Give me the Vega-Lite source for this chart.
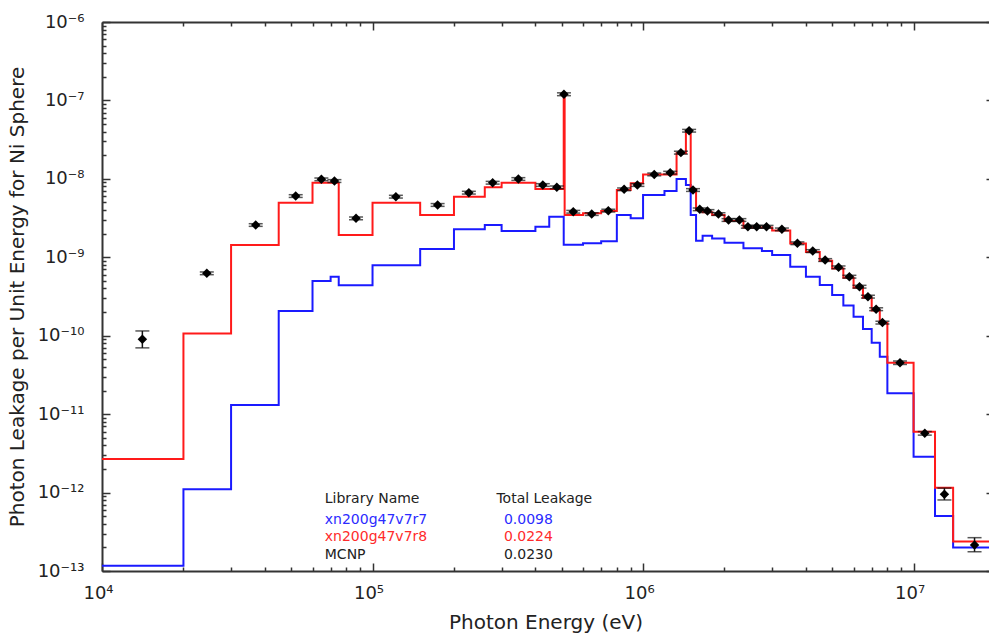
{
  "$schema": "https://vega.github.io/schema/vega-lite/v6.json",
  "width": 887,
  "height": 549,
  "autosize": "none",
  "padding": {"left": 102, "top": 22, "right": 0, "bottom": 64},
  "background": "white",
  "config": {"view": {"stroke": null}, "font": "DejaVu Sans"},
  "datasets": {
    "red": [
      {"E": 1e4, "v": 2.68e-12}, {"E": 2e4, "v": 1.07e-10}, {"E": 3e4, "v": 1.43e-9}, {"E": 4.5e4, "v": 4.97e-9},
      {"E": 6e4, "v": 8.9e-9}, {"E": 7e4, "v": 8.9e-9}, {"E": 7.5e4, "v": 1.92e-9}, {"E": 1e5, "v": 4.97e-9},
      {"E": 1.5e5, "v": 3.46e-9}, {"E": 2e5, "v": 5.9e-9}, {"E": 2.6e5, "v": 7.8e-9}, {"E": 3e5, "v": 8.9e-9},
      {"E": 4e5, "v": 7.4e-9}, {"E": 4.5e5, "v": 7.4e-9}, {"E": 5.09e5, "v": 1.18e-7}, {"E": 5.13e5, "v": 3.46e-9},
      {"E": 6e5, "v": 3.64e-9}, {"E": 7e5, "v": 3.89e-9}, {"E": 8e5, "v": 7.2e-9}, {"E": 9e5, "v": 8.8e-9},
      {"E": 1e6, "v": 1.14e-8}, {"E": 1.2e6, "v": 1.14e-8}, {"E": 1.33e6, "v": 2.12e-8}, {"E": 1.44e6, "v": 4.07e-8},
      {"E": 1.5e6, "v": 7.3e-9}, {"E": 1.57e6, "v": 4.0e-9}, {"E": 1.66e6, "v": 3.75e-9}, {"E": 1.8e6, "v": 3.45e-9},
      {"E": 2e6, "v": 2.9e-9}, {"E": 2.35e6, "v": 2.4e-9}, {"E": 2.75e6, "v": 2.4e-9}, {"E": 3e6, "v": 2.2e-9},
      {"E": 3.5e6, "v": 1.5e-9}, {"E": 4e6, "v": 1.17e-9}, {"E": 4.5e6, "v": 9.0e-10}, {"E": 5e6, "v": 7.2e-10},
      {"E": 5.5e6, "v": 5.5e-10}, {"E": 6e6, "v": 4.1e-10}, {"E": 6.5e6, "v": 3.05e-10}, {"E": 7e6, "v": 2.1e-10},
      {"E": 7.5e6, "v": 1.45e-10}, {"E": 8e6, "v": 4.53e-11}, {"E": 1e7, "v": 5.97e-12}, {"E": 1.2e7, "v": 1.15e-12},
      {"E": 1.4e7, "v": 2.37e-13}, {"E": 1.9e7, "v": 2.37e-13}
    ],
    "blue": [
      {"E": 1e4, "v": 1.17e-13}, {"E": 2e4, "v": 1.1e-12}, {"E": 3e4, "v": 1.31e-11}, {"E": 4.5e4, "v": 2.06e-10},
      {"E": 6e4, "v": 4.99e-10}, {"E": 7e4, "v": 5.66e-10}, {"E": 7.5e4, "v": 4.4e-10}, {"E": 1e5, "v": 7.91e-10},
      {"E": 1.5e5, "v": 1.28e-9}, {"E": 2e5, "v": 2.28e-9}, {"E": 2.6e5, "v": 2.58e-9}, {"E": 3e5, "v": 2.16e-9},
      {"E": 4e5, "v": 2.45e-9}, {"E": 4.5e5, "v": 3.29e-9}, {"E": 5.09e5, "v": 1.44e-9}, {"E": 5.13e5, "v": 1.44e-9},
      {"E": 6e5, "v": 1.51e-9}, {"E": 7e5, "v": 1.6e-9}, {"E": 8e5, "v": 3.46e-9}, {"E": 9e5, "v": 3.14e-9},
      {"E": 1e6, "v": 6.22e-9}, {"E": 1.2e6, "v": 7.0e-9}, {"E": 1.33e6, "v": 9.95e-9}, {"E": 1.44e6, "v": 8.35e-9},
      {"E": 1.5e6, "v": 3.46e-9}, {"E": 1.57e6, "v": 1.63e-9}, {"E": 1.66e6, "v": 1.88e-9}, {"E": 1.8e6, "v": 1.74e-9},
      {"E": 2e6, "v": 1.53e-9}, {"E": 2.35e6, "v": 1.3e-9}, {"E": 2.75e6, "v": 1.2e-9}, {"E": 3e6, "v": 1.07e-9},
      {"E": 3.5e6, "v": 7.59e-10}, {"E": 4e6, "v": 5.66e-10}, {"E": 4.5e6, "v": 4.43e-10}, {"E": 5e6, "v": 3.31e-10},
      {"E": 5.5e6, "v": 2.42e-10}, {"E": 6e6, "v": 1.75e-10}, {"E": 6.5e6, "v": 1.22e-10}, {"E": 7e6, "v": 8.15e-11},
      {"E": 7.5e6, "v": 5.4e-11}, {"E": 8e6, "v": 1.85e-11}, {"E": 1e7, "v": 2.87e-12}, {"E": 1.2e7, "v": 5.02e-13},
      {"E": 1.4e7, "v": 2.0e-13}, {"E": 1.9e7, "v": 2.0e-13}
    ],
    "mcnp": [
      {"E": 1.41e4, "v": 9.0e-11, "lo": 7.0e-11, "hi": 1.15e-10},
      {"E": 2.44e4, "v": 6.25e-10, "lo": 6.0e-10, "hi": 6.5e-10},
      {"E": 3.7e4, "v": 2.58e-9, "lo": 2.48e-9, "hi": 2.68e-9},
      {"E": 5.2e4, "v": 6.04e-9, "lo": 5.8e-9, "hi": 6.28e-9},
      {"E": 6.47e4, "v": 9.86e-9, "lo": 9.47e-9, "hi": 1.025e-8},
      {"E": 7.23e4, "v": 9.39e-9, "lo": 9.01e-9, "hi": 9.77e-9},
      {"E": 8.69e4, "v": 3.14e-9, "lo": 3.01e-9, "hi": 3.27e-9},
      {"E": 1.22e5, "v": 5.93e-9, "lo": 5.69e-9, "hi": 6.17e-9},
      {"E": 1.74e5, "v": 4.65e-9, "lo": 4.46e-9, "hi": 4.84e-9},
      {"E": 2.27e5, "v": 6.67e-9, "lo": 6.4e-9, "hi": 6.94e-9},
      {"E": 2.78e5, "v": 8.93e-9, "lo": 8.57e-9, "hi": 9.29e-9},
      {"E": 3.46e5, "v": 9.96e-9, "lo": 9.56e-9, "hi": 1.036e-8},
      {"E": 4.26e5, "v": 8.35e-9, "lo": 8.02e-9, "hi": 8.68e-9},
      {"E": 4.8e5, "v": 7.8e-9, "lo": 7.49e-9, "hi": 8.11e-9},
      {"E": 5.1e5, "v": 1.2e-7, "lo": 1.15e-7, "hi": 1.25e-7},
      {"E": 5.52e5, "v": 3.81e-9, "lo": 3.66e-9, "hi": 3.96e-9},
      {"E": 6.46e5, "v": 3.56e-9, "lo": 3.42e-9, "hi": 3.7e-9},
      {"E": 7.44e5, "v": 3.93e-9, "lo": 3.77e-9, "hi": 4.09e-9},
      {"E": 8.51e5, "v": 7.36e-9, "lo": 7.07e-9, "hi": 7.65e-9},
      {"E": 9.53e5, "v": 8.35e-9, "lo": 8.02e-9, "hi": 8.68e-9},
      {"E": 1.1e6, "v": 1.14e-8, "lo": 1.094e-8, "hi": 1.186e-8},
      {"E": 1.26e6, "v": 1.2e-8, "lo": 1.152e-8, "hi": 1.248e-8},
      {"E": 1.38e6, "v": 2.16e-8, "lo": 2.07e-8, "hi": 2.25e-8},
      {"E": 1.48e6, "v": 4.11e-8, "lo": 3.95e-8, "hi": 4.27e-8},
      {"E": 1.53e6, "v": 7.21e-9, "lo": 6.92e-9, "hi": 7.5e-9},
      {"E": 1.62e6, "v": 4.09e-9, "lo": 3.93e-9, "hi": 4.25e-9},
      {"E": 1.73e6, "v": 3.89e-9, "lo": 3.73e-9, "hi": 4.05e-9},
      {"E": 1.9e6, "v": 3.56e-9, "lo": 3.42e-9, "hi": 3.7e-9},
      {"E": 2.07e6, "v": 2.99e-9, "lo": 2.87e-9, "hi": 3.11e-9},
      {"E": 2.27e6, "v": 2.99e-9, "lo": 2.87e-9, "hi": 3.11e-9},
      {"E": 2.44e6, "v": 2.45e-9, "lo": 2.35e-9, "hi": 2.55e-9},
      {"E": 2.63e6, "v": 2.45e-9, "lo": 2.35e-9, "hi": 2.55e-9},
      {"E": 2.86e6, "v": 2.45e-9, "lo": 2.35e-9, "hi": 2.55e-9},
      {"E": 3.26e6, "v": 2.27e-9, "lo": 2.18e-9, "hi": 2.36e-9},
      {"E": 3.72e6, "v": 1.51e-9, "lo": 1.45e-9, "hi": 1.57e-9},
      {"E": 4.24e6, "v": 1.2e-9, "lo": 1.15e-9, "hi": 1.25e-9},
      {"E": 4.71e6, "v": 9.23e-10, "lo": 8.86e-10, "hi": 9.6e-10},
      {"E": 5.28e6, "v": 7.45e-10, "lo": 7.15e-10, "hi": 7.75e-10},
      {"E": 5.79e6, "v": 5.66e-10, "lo": 5.43e-10, "hi": 5.89e-10},
      {"E": 6.31e6, "v": 4.22e-10, "lo": 4.05e-10, "hi": 4.39e-10},
      {"E": 6.78e6, "v": 3.15e-10, "lo": 3.02e-10, "hi": 3.28e-10},
      {"E": 7.27e6, "v": 2.18e-10, "lo": 2.09e-10, "hi": 2.27e-10},
      {"E": 7.67e6, "v": 1.47e-10, "lo": 1.41e-10, "hi": 1.53e-10},
      {"E": 8.91e6, "v": 4.53e-11, "lo": 4.3e-11, "hi": 4.76e-11},
      {"E": 1.1e7, "v": 5.7e-12, "lo": 5.4e-12, "hi": 6.0e-12},
      {"E": 1.3e7, "v": 9.5e-13, "lo": 8.05e-13, "hi": 1.14e-12},
      {"E": 1.68e7, "v": 2.15e-13, "lo": 1.76e-13, "hi": 2.66e-13}
    ],
    "legend": [
      {"lib": "Library Name", "total": "Total Leakage", "kind": "header", "y": 8.3e-13},
      {"lib": "xn200g47v7r7", "total": "0.0098", "kind": "row", "y": 4.45e-13},
      {"lib": "xn200g47v7r8", "total": "0.0224", "kind": "row", "y": 2.75e-13},
      {"lib": "MCNP", "total": "0.0230", "kind": "row", "y": 1.62e-13}
    ]
  },
  "resolve": {"axis": {"x": "independent", "y": "independent"}},
  "layer": [
    {
      "data": {"name": "blue"},
      "mark": {"type": "line", "interpolate": "step-after", "color": "#1a1aff", "strokeWidth": 2},
      "encoding": {
        "x": {"field": "E", "type": "quantitative", "scale": {"type": "log", "domain": [10000, 19000000], "nice": false},
          "axis": {"orient": "top", "title": null, "labels": false, "grid": false, "domainColor": "#333", "domainWidth": 2, "tickColor": "#333", "tickWidth": 1.5,
            "values": [10000,20000,30000,40000,50000,60000,70000,80000,90000,100000,200000,300000,400000,500000,600000,700000,800000,900000,1000000,2000000,3000000,4000000,5000000,6000000,7000000,8000000,9000000,10000000],
            "tickSize": {"condition": {"test": "abs(log(datum.value)/LN10 - round(log(datum.value)/LN10)) < 0.001", "value": -8}, "value": -4}}},
        "y": {"field": "v", "type": "quantitative", "scale": {"type": "log", "domain": [1e-13, 1e-6], "nice": false},
          "axis": {"orient": "right", "title": null, "labels": false, "grid": false, "domain": false, "tickColor": "#333", "tickWidth": 1.5,
            "values": [1e-13,1e-12,1e-11,1e-10,1e-9,1e-8,1e-7,1e-6], "tickSize": -3}}
      }
    },
    {
      "data": {"name": "red"},
      "mark": {"type": "line", "interpolate": "step-after", "color": "#ff1a1a", "strokeWidth": 2},
      "encoding": {
        "x": {"field": "E", "type": "quantitative",
          "axis": {"orient": "bottom", "title": "Photon Energy (eV)", "titleFontSize": 20, "titleFontWeight": "normal", "titleColor": "#222", "titlePadding": 6,
            "grid": false, "domainColor": "#333", "domainWidth": 2, "tickColor": "#333", "tickWidth": 1.5, "labelFontSize": 18, "labelColor": "#222", "labelOverlap": false, "labelFlush": false, "labelPadding": 21, "labelOffset": -4,
            "values": [10000,20000,30000,40000,50000,60000,70000,80000,90000,100000,200000,300000,400000,500000,600000,700000,800000,900000,1000000,2000000,3000000,4000000,5000000,6000000,7000000,8000000,9000000,10000000],
            "tickSize": {"condition": {"test": "abs(log(datum.value)/LN10 - round(log(datum.value)/LN10)) < 0.001", "value": -8}, "value": -4},
            "labelExpr": "abs(log(datum.value)/LN10 - round(log(datum.value)/LN10)) < 0.001 ? '10' + (round(log(datum.value)/LN10) < 0 ? '⁻' : '') + (abs(round(log(datum.value)/LN10)) >= 10 ? ['⁰','¹','²','³','⁴','⁵','⁶','⁷','⁸','⁹'][floor(abs(round(log(datum.value)/LN10))/10)] : '') + ['⁰','¹','²','³','⁴','⁵','⁶','⁷','⁸','⁹'][abs(round(log(datum.value)/LN10)) % 10] : ''"}},
        "y": {"field": "v", "type": "quantitative",
          "axis": {"orient": "left", "title": "Photon Leakage per Unit Energy for Ni Sphere", "titleFontSize": 20, "titleFontWeight": "normal", "titleColor": "#222", "titlePadding": 10,
            "grid": false, "domainColor": "#333", "domainWidth": 2, "tickColor": "#333", "tickWidth": 1.5, "labelFontSize": 18, "labelColor": "#222", "labelOverlap": false, "labelFlush": false, "labelPadding": 26,
            "values": [1e-13,2e-13,3e-13,4e-13,5e-13,6e-13,7e-13,8e-13,9e-13,1e-12,2e-12,3e-12,4e-12,5e-12,6e-12,7e-12,8e-12,9e-12,1e-11,2e-11,3e-11,4e-11,5e-11,6e-11,7e-11,8e-11,9e-11,1e-10,2e-10,3e-10,4e-10,5e-10,6e-10,7e-10,8e-10,9e-10,1e-9,2e-9,3e-9,4e-9,5e-9,6e-9,7e-9,8e-9,9e-9,1e-8,2e-8,3e-8,4e-8,5e-8,6e-8,7e-8,8e-8,9e-8,1e-7,2e-7,3e-7,4e-7,5e-7,6e-7,7e-7,8e-7,9e-7,1e-6],
            "tickSize": {"condition": {"test": "abs(log(datum.value)/LN10 - round(log(datum.value)/LN10)) < 0.001", "value": -8}, "value": -4},
            "labelExpr": "abs(log(datum.value)/LN10 - round(log(datum.value)/LN10)) < 0.001 ? '10' + (round(log(datum.value)/LN10) < 0 ? '⁻' : '') + (abs(round(log(datum.value)/LN10)) >= 10 ? ['⁰','¹','²','³','⁴','⁵','⁶','⁷','⁸','⁹'][floor(abs(round(log(datum.value)/LN10))/10)] : '') + ['⁰','¹','²','³','⁴','⁵','⁶','⁷','⁸','⁹'][abs(round(log(datum.value)/LN10)) % 10] : ''"}}
      }
    },
    {
      "data": {"name": "mcnp"},
      "mark": {"type": "rule", "color": "#111", "strokeWidth": 1.5},
      "encoding": {
        "x": {"field": "E", "type": "quantitative", "axis": null},
        "y": {"field": "lo", "type": "quantitative", "axis": null},
        "y2": {"field": "hi"}
      }
    },
    {
      "data": {"name": "mcnp"},
      "mark": {"type": "tick", "orient": "horizontal", "color": "#111", "size": 14, "thickness": 1.5},
      "encoding": {
        "x": {"field": "E", "type": "quantitative", "axis": null},
        "y": {"field": "lo", "type": "quantitative", "axis": null}
      }
    },
    {
      "data": {"name": "mcnp"},
      "mark": {"type": "tick", "orient": "horizontal", "color": "#111", "size": 14, "thickness": 1.5},
      "encoding": {
        "x": {"field": "E", "type": "quantitative", "axis": null},
        "y": {"field": "hi", "type": "quantitative", "axis": null}
      }
    },
    {
      "data": {"name": "mcnp"},
      "mark": {"type": "point", "shape": "diamond", "filled": true, "color": "#000", "size": 90, "opacity": 1},
      "encoding": {
        "x": {"field": "E", "type": "quantitative", "axis": null},
        "y": {"field": "v", "type": "quantitative", "axis": null}
      }
    },
    {
      "data": {"name": "legend"},
      "mark": {"type": "text", "align": "left", "baseline": "middle", "fontSize": 14},
      "encoding": {
        "x": {"datum": 66600, "type": "quantitative", "axis": null},
        "y": {"field": "y", "type": "quantitative", "axis": null},
        "text": {"field": "lib"},
        "color": {"field": "lib", "type": "nominal", "legend": null,
          "scale": {"domain": ["Library Name", "xn200g47v7r7", "xn200g47v7r8", "MCNP"], "range": ["#222222", "#2b2bff", "#ff2b2b", "#222222"]}}
      }
    },
    {
      "data": {"name": "legend"},
      "transform": [{"filter": "datum.kind === 'header'"}],
      "mark": {"type": "text", "align": "left", "baseline": "middle", "fontSize": 14, "color": "#222"},
      "encoding": {
        "x": {"datum": 287000, "type": "quantitative", "axis": null},
        "y": {"field": "y", "type": "quantitative", "axis": null},
        "text": {"field": "total"}
      }
    },
    {
      "data": {"name": "legend"},
      "transform": [{"filter": "datum.kind === 'row'"}],
      "mark": {"type": "text", "align": "left", "baseline": "middle", "fontSize": 14},
      "encoding": {
        "x": {"datum": 306000, "type": "quantitative", "axis": null},
        "y": {"field": "y", "type": "quantitative", "axis": null},
        "text": {"field": "total"},
        "color": {"field": "lib", "type": "nominal", "legend": null}
      }
    }
  ]
}
